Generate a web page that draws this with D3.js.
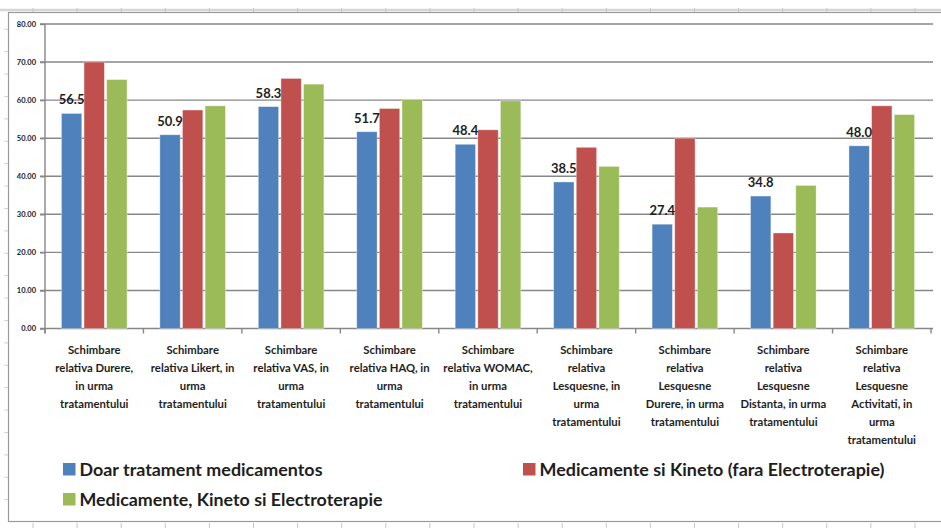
<!DOCTYPE html>
<html>
<head>
<meta charset="utf-8">
<script src="https://cdn.jsdelivr.net/npm/d3@7"></script>
<style>
  html, body { margin: 0; padding: 0; background: #ffffff; }
  svg { display: block; }
</style>
</head>
<body>
<svg id="chart" width="941" height="528"></svg>
<script>
// Category names, one entry per line of the wrapped axis label
const categories = [
  "Schimbare\nrelativa Durere,\nin urma\ntratamentului",
  "Schimbare\nrelativa Likert, in\nurma\ntratamentului",
  "Schimbare\nrelativa VAS, in\nurma\ntratamentului",
  "Schimbare\nrelativa HAQ, in\nurma\ntratamentului",
  "Schimbare\nrelativa WOMAC,\nin urma\ntratamentului",
  "Schimbare\nrelativa\nLesquesne, in\nurma\ntratamentului",
  "Schimbare\nrelativa\nLesquesne\nDurere, in urma\ntratamentului",
  "Schimbare\nrelativa\nLesquesne\nDistanta, in urma\ntratamentului",
  "Schimbare\nrelativa\nLesquesne\nActivitati, in\nurma\ntratamentului"
];

const seriesNames = [
  "Doar tratament medicamentos",
  "Medicamente si Kineto (fara Electroterapie)",
  "Medicamente, Kineto si Electroterapie"
];

const doarMedicamente = [56.5, 50.9, 58.3, 51.7, 48.4, 38.5, 27.4, 34.8, 48.0];
const medicamenteKineto = [70.0, 57.4, 65.7, 57.8, 52.2, 47.6, 50.0, 25.1, 58.5];
const medicamenteKinetoElectro = [65.4, 58.5, 64.2, 60.2, 59.8, 42.6, 31.9, 37.6, 56.2];

const yTicks = [0, 10, 20, 30, 40, 50, 60, 70, 80];
const colors = ["#4F81BD", "#C0504D", "#9BBB59"];

const series = [doarMedicamente, medicamenteKineto, medicamenteKinetoElectro];

const svg = d3.select("#chart");
const W = 941, H = 528;
const plot = { left: 45, right: 931, top: 24, bottom: 328.5 };

// Worksheet cell lines around the embedded chart
const sheet = svg.append("g");
sheet.append("line").attr("x1", 0).attr("x2", W).attr("y1", 10).attr("y2", 10)
  .attr("stroke", "#d6d6d6").attr("stroke-width", 2.5);
for (let x = 33; x < W; x += 44.1) {
  sheet.append("line").attr("x1", x).attr("x2", x).attr("y1", 8).attr("y2", 12)
    .attr("stroke", "#c8c8c8").attr("stroke-width", 1);
  sheet.append("line").attr("x1", x).attr("x2", x).attr("y1", 523).attr("y2", 528)
    .attr("stroke", "#c8c8c8").attr("stroke-width", 1);
}
for (let y = 29.3; y < 520; y += 22.4) {
  sheet.append("line").attr("x1", 4).attr("x2", 8).attr("y1", y).attr("y2", y)
    .attr("stroke", "#d4d4d4").attr("stroke-width", 1);
}

// Chart area frame
svg.append("rect")
  .attr("x", 8.5).attr("y", 12.5).attr("width", 960).attr("height", 509)
  .attr("fill", "#ffffff").attr("stroke", "#9a9a9a").attr("stroke-width", 1.2);

const x0 = d3.scaleBand().domain(categories).range([plot.left, plot.right]).padding(0);
const groupPad = x0.bandwidth() * 0.1667;
const x1 = d3.scaleBand().domain(d3.range(series.length))
  .range([groupPad, x0.bandwidth() - groupPad]).paddingInner(0.1).paddingOuter(0);
const y = d3.scaleLinear().domain([0, 80]).range([plot.bottom, plot.top]);

// Horizontal gridlines
svg.append("g").selectAll("line").data(yTicks).join("line")
  .attr("x1", plot.left - 5).attr("x2", plot.right + 2)
  .attr("y1", d => y(d)).attr("y2", d => y(d))
  .attr("stroke", "#878787").attr("stroke-width", 1.4);

// Y axis
const yAxis = svg.append("g")
  .attr("transform", `translate(${plot.left},0)`)
  .call(d3.axisLeft(y).tickValues(yTicks).tickFormat(d3.format(".2f")).tickSize(5).tickPadding(4));
yAxis.select(".domain").attr("stroke", "#878787").attr("stroke-width", 1.4)
  .attr("d", `M0,${plot.top}V${plot.bottom + 5}`);
yAxis.selectAll(".tick line").attr("stroke", "#878787").attr("stroke-width", 1.4);
yAxis.selectAll(".tick text")
  .attr("font-family", "Lato, 'DejaVu Sans', sans-serif")
  .attr("font-size", 7.5).attr("font-weight", 700).attr("fill", "#222");

// Category tick marks
svg.append("g").selectAll("line").data(categories.concat([null])).join("line")
  .attr("x1", (d, i) => plot.left + i * x0.step())
  .attr("x2", (d, i) => plot.left + i * x0.step())
  .attr("y1", plot.bottom).attr("y2", plot.bottom + 5)
  .attr("stroke", "#878787").attr("stroke-width", 1.4);

// Bars
const groups = svg.append("g").selectAll("g").data(categories).join("g")
  .attr("transform", d => `translate(${x0(d)},0)`);
groups.selectAll("rect")
  .data((d, ci) => series.map((s, si) => ({ si, v: s[ci] })))
  .join("rect")
  .attr("x", d => x1(d.si))
  .attr("width", x1.bandwidth())
  .attr("y", d => y(d.v))
  .attr("height", d => y(0) - y(d.v))
  .attr("fill", d => colors[d.si])
  .attr("stroke", "rgba(255,255,255,0.45)")
  .attr("stroke-width", 0.8);

// Value labels above the first series
groups.append("text")
  .attr("x", x1(0) + x1.bandwidth() / 2)
  .attr("y", (d, ci) => y(doarMedicamente[ci]) - 9)
  .attr("text-anchor", "middle")
  .attr("font-family", "Lato, 'DejaVu Sans', sans-serif")
  .attr("font-size", 13).attr("font-weight", 700).attr("fill", "#1e1e1e")
  .text((d, ci) => doarMedicamente[ci].toFixed(1));

// Wrapped category labels
const catLabels = svg.append("g").selectAll("text").data(categories).join("text")
  .attr("x", d => x0(d) + x0.bandwidth() / 2)
  .attr("y", 353.5)
  .attr("text-anchor", "middle")
  .attr("font-family", "Lato, 'DejaVu Sans', sans-serif")
  .attr("font-size", 11.3).attr("font-weight", 700).attr("fill", "#1e1e1e");
catLabels.each(function (d) {
  const t = d3.select(this);
  d.split("\n").forEach((line, i) => {
    t.append("tspan").attr("x", x0(d) + x0.bandwidth() / 2)
      .attr("dy", i === 0 ? 0 : 18).text(line);
  });
});

// Legend
const legendPos = [
  { x: 63, y: 476, w: 243 },
  { x: 523, y: 476, w: 345 },
  { x: 63, y: 506, w: 303 }
];
const legend = svg.append("g").selectAll("g").data(seriesNames).join("g")
  .attr("transform", (d, i) => `translate(${legendPos[i].x},${legendPos[i].y})`);
legend.append("rect")
  .attr("x", 0).attr("y", -13).attr("width", 12.5).attr("height", 12.5)
  .attr("fill", (d, i) => colors[i]);
legend.append("text")
  .attr("x", 16.5).attr("y", 0)
  .attr("font-family", "Lato, 'DejaVu Sans', sans-serif")
  .attr("font-size", 16.5).attr("font-weight", 700).attr("fill", "#1e1e1e")
  .attr("textLength", (d, i) => legendPos[i].w)
  .attr("lengthAdjust", "spacingAndGlyphs")
  .text(d => d);
</script>
</body>
</html>
